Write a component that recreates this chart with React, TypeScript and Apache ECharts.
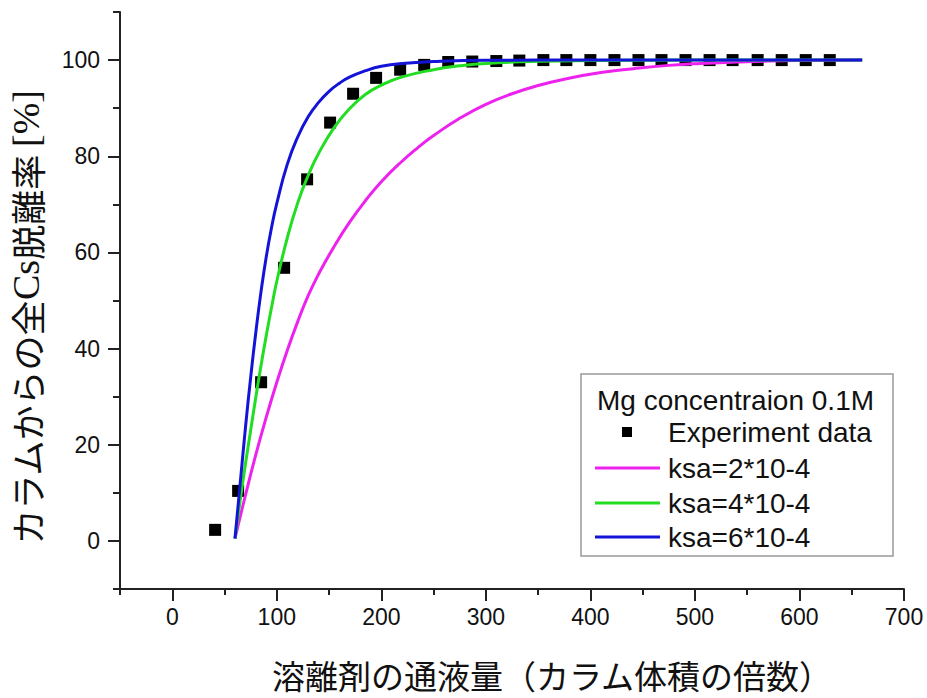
import React, { useEffect, useRef } from "react";
import * as echarts from "echarts";

// ---- data ----
const expX = [41, 63, 85, 107, 129, 151, 173, 195, 218, 241, 264, 287, 310, 332, 355, 377, 400, 423, 446, 468, 491, 514, 536, 560, 583, 606, 629];
const expY = [2.3, 10.4, 33.0, 56.8, 75.2, 87.0, 93.0, 96.3, 98.0, 99.0, 99.6, 99.7, 99.8, 99.9, 100, 100, 100, 100, 100, 100, 100, 100, 100, 100, 100, 100, 100];

const magX = [60, 70, 80, 90, 100, 110, 120, 130, 140, 155, 170, 186, 200, 218, 235, 250, 275, 300, 325, 350, 377, 410, 441, 475, 505, 540, 570, 620, 660];
const magY = [0.5, 9.5, 18, 25.8, 33, 39.6, 45.6, 51, 55.5, 61.3, 66.4, 71.1, 74.7, 78.6, 81.8, 84.3, 87.9, 90.8, 93.0, 94.7, 96.1, 97.4, 98.2, 98.9, 99.3, 99.6, 99.8, 99.95, 100];

const greenX = [60, 65, 70, 75, 80, 85, 90, 95, 100, 110, 120, 130, 140, 155, 170, 185, 200, 220, 250, 275, 300, 350, 400, 500, 660];
const greenY = [0.5, 8.5, 16, 23, 30, 36.6, 42.8, 48.6, 54, 63, 70.3, 76, 80.6, 86, 90, 92.9, 94.8, 96.5, 98, 98.8, 99.3, 99.75, 99.9, 100, 100];

const blueX = [60, 65, 70, 75, 80, 85, 90, 95, 100, 110, 120, 130, 140, 150, 160, 170, 185, 200, 220, 250, 300, 400, 500, 660];
const blueY = [0.5, 12, 23.5, 34, 43.5, 52, 59.2, 65.2, 70.2, 78.3, 84, 88.2, 91.2, 93.5, 95.2, 96.5, 97.8, 98.7, 99.3, 99.7, 99.95, 100, 100, 100];

const seriesNames = ["Experiment data", "ksa=2*10-4", "ksa=4*10-4", "ksa=6*10-4"];
const legendTitle = "Mg concentraion 0.1M";
const xMajorTicks = [0, 100, 200, 300, 400, 500, 600, 700];
const yMajorTicks = [0, 20, 40, 60, 80, 100];
const xTitle = "溶離剤の通液量（カラム体積の倍数）";
const yTitle = "カラムからの全{s|Cs}脱離率 {s|[%]}";

const COLORS = ["#000000", "#ee22ee", "#22dd22", "#1414d8"];
const AXIS = "#222222";

const zip = (xs: number[], ys: number[]) => xs.map((x, i) => [x, ys[i]]);

export default function App() {
  const ref = useRef<HTMLDivElement>(null);
  useEffect(() => {
    document.body.style.margin = "0";
    if (!ref.current) return;
    const chart = echarts.init(ref.current, undefined, { renderer: "svg" });
    const legendFont = { fontFamily: "Liberation Sans", fontSize: 28, fill: "#111" };
    const lx = 595, lx2 = 660, tx = 668;
    const rows = [432, 468, 503, 537];
    const graphic: any[] = [
      { type: "rect", shape: { x: 581, y: 374, width: 312, height: 182 }, style: { fill: "#fff", stroke: "#999", lineWidth: 1.5 }, z: 10 },
      { type: "text", x: 597, y: 400, style: { ...legendFont, text: legendTitle, verticalAlign: "middle" }, z: 11 },
      { type: "rect", shape: { x: 622, y: rows[0] - 5, width: 10, height: 10 }, style: { fill: "#000" }, z: 11 },
    ];
    seriesNames.forEach((n, i) => {
      graphic.push({ type: "text", x: tx, y: rows[i], style: { ...legendFont, text: n, verticalAlign: "middle" }, z: 11 });
      if (i > 0) {
        graphic.push({ type: "line", shape: { x1: lx, y1: rows[i], x2: lx2, y2: rows[i] }, style: { stroke: COLORS[i], lineWidth: 3 }, z: 11 });
      }
    });

    const tickLabel = { fontFamily: "Liberation Sans", fontSize: 23, color: "#111" };
    const option: any = {
      animation: false,
      backgroundColor: "#fff",
      grid: { left: 120, right: 23, top: 12, bottom: 109, containLabel: false, outerBoundsMode: "none" },
      xAxis: [
        {
          type: "value", position: "bottom", min: -50, max: 700, interval: 50,
          axisLine: { onZero: false, lineStyle: { color: AXIS, width: 2 } },
          axisTick: { show: true, inside: false, length: 6, lineStyle: { color: AXIS, width: 2 } },
          axisLabel: { ...tickLabel, margin: 16, formatter: (v: number) => (v % 100 === 0 ? String(v) : "") },
          splitLine: { show: false },
          name: xTitle, nameLocation: "middle", nameGap: 69,
          nameTextStyle: { fontFamily: "Noto Sans CJK JP", fontSize: 33, lineHeight: 34, color: "#111", padding: [0, 0, 0, 80] },
        },
        {
          type: "value", position: "bottom", offset: 0, min: -50, max: 700,
          axisLine: { show: false, onZero: false },
          axisTick: { show: true, length: 12, customValues: xMajorTicks, lineStyle: { color: AXIS, width: 2 } },
          axisLabel: { show: false },
          splitLine: { show: false },
        },
      ],
      yAxis: [
        {
          type: "value", position: "left", min: -10, max: 110, interval: 10,
          axisLine: { show: true, onZero: false, lineStyle: { color: AXIS, width: 2 } },
          axisTick: { show: true, inside: false, length: 7, lineStyle: { color: AXIS, width: 2 } },
          axisLabel: { ...tickLabel, margin: 20, formatter: (v: number) => (v % 20 === 0 && v >= 0 && v <= 100 ? String(v) : "") },
          splitLine: { show: false },
          name: yTitle, nameLocation: "middle", nameGap: 75,
          nameTextStyle: {
            fontFamily: "Noto Sans CJK JP", fontSize: 35, color: "#111", padding: [0, 34, 0, 0],
            rich: { s: { fontFamily: "Liberation Serif", fontSize: 38, color: "#111" } },
          },
        },
        {
          type: "value", position: "left", offset: 0, min: -10, max: 110,
          axisLine: { show: false, onZero: false },
          axisTick: { show: true, length: 12, customValues: yMajorTicks, lineStyle: { color: AXIS, width: 2 } },
          axisLabel: { show: false },
          splitLine: { show: false },
        },
      ],
      series: [
        {
          name: seriesNames[0], type: "scatter", symbol: "rect", symbolSize: 12,
          itemStyle: { color: COLORS[0], opacity: 1 }, data: zip(expX, expY), z: 2,
        },
        ...[
          [magX, magY], [greenX, greenY], [blueX, blueY],
        ].map(([xs, ys], i) => ({
          name: seriesNames[i + 1], type: "line", showSymbol: false, smooth: 0.5,
          lineStyle: { color: COLORS[i + 1], width: 3 }, itemStyle: { color: COLORS[i + 1] },
          data: zip(xs as number[], ys as number[]), z: 3,
        })),
      ],
      graphic,
    };
    chart.setOption(option);
    return () => chart.dispose();
  }, []);
  return <div ref={ref} style={{ width: 927, height: 698 }} />;
}
